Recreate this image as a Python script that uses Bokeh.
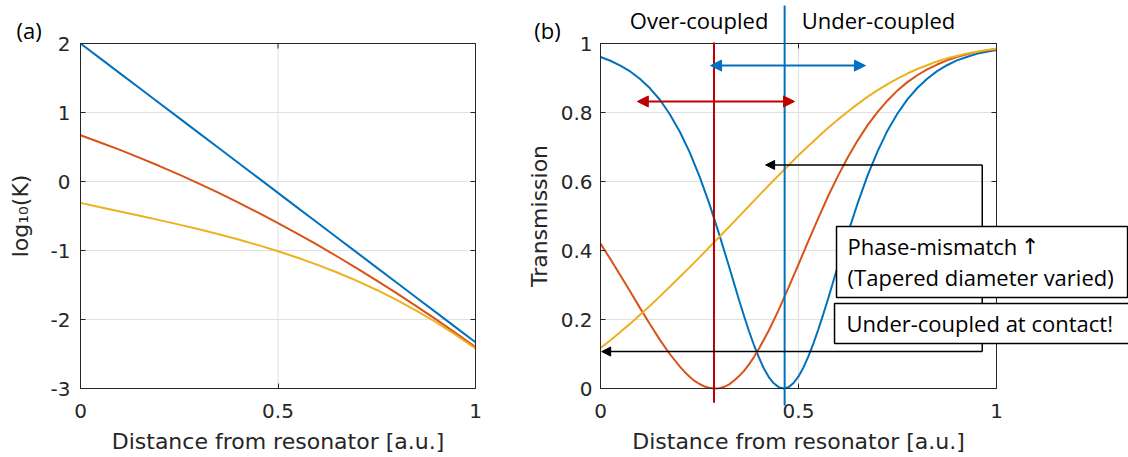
import math
from bokeh.plotting import figure
from bokeh.layouts import row
from bokeh.models import (FixedTicker, LinearAxis, Label, Arrow, NormalHead,
                          BoxAnnotation, Range1d)
from bokeh.embed import file_html
from bokeh.resources import INLINE

# ---------------- data ----------------
# panel (a): log10 of the coupling ratio K versus distance
dist_a = [round(0.05 * i, 2) for i in range(21)]
logk_blue = [2.000, 1.784, 1.567, 1.351, 1.134, 0.918, 0.701, 0.485, 0.268, 0.052, -0.165,
             -0.382, -0.598, -0.815, -1.031, -1.248, -1.464, -1.681, -1.897, -2.114, -2.330]
logk_red = [0.670, 0.566, 0.458, 0.343, 0.224, 0.099, -0.031, -0.166, -0.306, -0.452, -0.603,
            -0.759, -0.920, -1.087, -1.259, -1.436, -1.618, -1.806, -1.999, -2.197, -2.400]
logk_yellow = [-0.310, -0.373, -0.435, -0.497, -0.560, -0.625, -0.693, -0.765, -0.841, -0.922,
               -1.010, -1.105, -1.208, -1.319, -1.441, -1.572, -1.716, -1.871, -2.040, -2.222,
               -2.420]

# panel (b): transmission versus distance (denser sampling around each dip)
dist_b_blue = [0.0, 0.025, 0.05, 0.075, 0.1, 0.125, 0.15, 0.175, 0.2, 0.225, 0.25, 0.275,
               0.3, 0.325, 0.35, 0.3625, 0.375, 0.3875, 0.4, 0.4125, 0.425, 0.4375, 0.45,
               0.4625, 0.475, 0.4875, 0.5, 0.5125, 0.525, 0.5375, 0.55, 0.5625, 0.575, 0.6,
               0.625, 0.65, 0.675, 0.7, 0.725, 0.75, 0.775, 0.8, 0.825, 0.85, 0.875, 0.9,
               0.925, 0.95, 0.975, 1.0]
trans_blue = [0.961, 0.950, 0.936, 0.919, 0.897, 0.870, 0.837, 0.795, 0.745, 0.685, 0.615, 0.535,
              0.446, 0.352, 0.256, 0.210, 0.166, 0.126, 0.090, 0.058, 0.033, 0.015, 0.004,
              0.000, 0.004, 0.016, 0.035, 0.061, 0.093, 0.130, 0.171, 0.215, 0.261, 0.357,
              0.451, 0.539, 0.619, 0.688, 0.748, 0.797, 0.838, 0.871, 0.898, 0.920, 0.937, 0.951,
              0.961, 0.970, 0.976, 0.981]

dist_b_red = [0.0, 0.025, 0.05, 0.075, 0.1, 0.125, 0.15, 0.175, 0.2, 0.2125, 0.225, 0.2375,
              0.25, 0.2625, 0.275, 0.2875, 0.3, 0.3125, 0.325, 0.3375, 0.35, 0.3625, 0.375,
              0.3875, 0.4, 0.425, 0.45, 0.475, 0.5, 0.525, 0.55, 0.575, 0.6, 0.625, 0.65,
              0.675, 0.7, 0.725, 0.75, 0.775, 0.8, 0.825, 0.85, 0.875, 0.9, 0.925, 0.95,
              0.975, 1.0]
trans_red = [0.420, 0.375, 0.328, 0.281, 0.233, 0.186, 0.141, 0.100, 0.064, 0.048, 0.034, 0.022,
             0.013, 0.006, 0.002, 0.000, 0.001, 0.005, 0.012, 0.023, 0.036, 0.051, 0.070,
             0.091, 0.115, 0.168, 0.228, 0.293, 0.360, 0.428, 0.494, 0.558, 0.617, 0.671,
             0.720, 0.764, 0.802, 0.835, 0.864, 0.888, 0.908, 0.925, 0.939, 0.951, 0.961,
             0.969, 0.975, 0.980, 0.984]

dist_b_yellow = [round(0.025 * i, 3) for i in range(41)]
trans_yellow = [0.117, 0.140, 0.164, 0.188, 0.214, 0.240, 0.267, 0.295, 0.323, 0.351,
                0.380, 0.410, 0.439, 0.469, 0.499, 0.529, 0.559, 0.589, 0.618, 0.647,
                0.676, 0.703, 0.730, 0.756, 0.780, 0.803, 0.825, 0.846, 0.865, 0.882,
                0.898, 0.913, 0.926, 0.937, 0.948, 0.957, 0.964, 0.971, 0.976, 0.981,
                0.985]

x_ticks = [0, 0.5, 1]
x_tick_labels = ["0", "0.5", "1"]
ya_ticks = [-3, -2, -1, 0, 1, 2]
ya_tick_labels = ["-3", "-2", "-1", "0", "1", "2"]
yb_ticks = [0, 0.2, 0.4, 0.6, 0.8, 1]
yb_tick_labels = ["0", "0.2", "0.4", "0.6", "0.8", "1"]

# distance of critical coupling for the red and blue cases
critical_red = 0.2866
critical_blue = 0.465

# ---------------- style ----------------
C_BLUE = "#0072BD"
C_RED = "#D95319"
C_YEL = "#EDB120"
C_MARK_RED = "#C00000"
C_MARK_BLUE = "#0070C0"
INK = "#262626"
GRID = "#e0e0e0"
AX_FONT = "DejaVu Sans"
NOTE_FONT = "Open Sans"
HEIGHT = 457


def make_panel(width, box_px, xlim, ylim, xt, xl, yt, yl, ylabel,
               ytick_standoff, ylabel_standoff):
    """Figure whose frame fills the canvas; the axes box sits at box_px
    (left, right, top, bottom) and the axes are pinned to its edges."""
    left, right, top, bottom = box_px
    sx = (right - left) / (xlim[1] - xlim[0])
    sy = (bottom - top) / (ylim[1] - ylim[0])
    p = figure(width=width, height=HEIGHT,
               x_range=Range1d(xlim[0] - left / sx, xlim[1] + (width - right) / sx),
               y_range=Range1d(ylim[0] - (HEIGHT - bottom) / sy, ylim[1] + top / sy),
               x_axis_location=None, y_axis_location=None,
               output_backend="svg", toolbar_location=None, min_border=0)
    p.outline_line_color = None
    p.background_fill_color = "white"
    p.border_fill_color = "white"
    p.grid.visible = False

    # grid lines at the ticks
    p.segment(x0=xt, y0=[ylim[0]] * len(xt), x1=xt, y1=[ylim[1]] * len(xt),
              line_color=GRID, line_width=1)
    p.segment(x0=[xlim[0]] * len(yt), y0=yt, x1=[xlim[1]] * len(yt), y1=yt,
              line_color=GRID, line_width=1)

    common = dict(axis_line_color=None, major_tick_in=5, major_tick_out=0,
                  major_tick_line_color=INK, minor_tick_line_color=None,
                  major_label_text_font=AX_FONT, major_label_text_font_size="20px",
                  major_label_text_color=INK, axis_label_text_font=AX_FONT,
                  axis_label_text_font_size="22px", axis_label_text_font_style="normal",
                  axis_label_text_color=INK)
    xa = LinearAxis(fixed_location=ylim[0], bounds=xlim, ticker=FixedTicker(ticks=xt),
                    major_label_overrides=dict(zip(xt, xl)),
                    axis_label="Distance from resonator [a.u.]",
                    major_label_standoff=15, axis_label_standoff=8, **common)
    ya = LinearAxis(fixed_location=xlim[0], bounds=ylim, ticker=FixedTicker(ticks=yt),
                    major_label_overrides=dict(zip(yt, yl)), axis_label=ylabel,
                    major_label_standoff=ytick_standoff,
                    axis_label_standoff=ylabel_standoff, **common)
    p.add_layout(xa, "below")
    p.add_layout(ya, "left")

    # mirrored inward ticks on the top and right edges
    p.ray(x=xt, y=[ylim[1]] * len(xt), length=5, length_units="screen",
          angle=-math.pi / 2, line_color=INK, line_width=1)
    p.ray(x=[xlim[1]] * len(yt), y=yt, length=5, length_units="screen",
          angle=math.pi, line_color=INK, line_width=1)
    return p


def draw_box(p, xlim, ylim):
    p.quad(left=xlim[0], right=xlim[1], bottom=ylim[0], top=ylim[1],
           fill_color=None, line_color=INK, line_width=1)


# ---------------- panel (a) ----------------
XA, YA = (0, 1), (-3, 2)
pa = make_panel(520, (80, 475, 43, 388), XA, YA, x_ticks, x_tick_labels,
                ya_ticks, ya_tick_labels, "log\u2081\u2080(K)", 10, 15)
pa.line(dist_a, logk_blue, line_color=C_BLUE, line_width=2)
pa.line(dist_a, logk_red, line_color=C_RED, line_width=2)
pa.line(dist_a, logk_yellow, line_color=C_YEL, line_width=2)
draw_box(pa, XA, YA)
pa.add_layout(Label(x=-0.162, y=2.20, text="(a)", text_font=NOTE_FONT,
                    text_font_size="22px", text_color="black",
                    text_baseline="alphabetic"))

# ---------------- panel (b) ----------------
XB, YB = (0, 1), (0, 1)
pb = make_panel(608, (80, 476, 43, 388), XB, YB, x_ticks, x_tick_labels,
                yb_ticks, yb_tick_labels, "Transmission", 8, 6)
pb.line(dist_b_blue, trans_blue, line_color=C_BLUE, line_width=2)
pb.line(dist_b_red, trans_red, line_color=C_RED, line_width=2)
pb.line(dist_b_yellow, trans_yellow, line_color=C_YEL, line_width=2)
draw_box(pb, XB, YB)

# critical-coupling markers
pb.add_layout(Arrow(x_start=critical_red, y_start=-0.041, x_end=critical_red, y_end=1.003,
                    end=None, line_color=C_MARK_RED, line_width=2))
pb.add_layout(Arrow(x_start=critical_blue, y_start=-0.049, x_end=critical_blue, y_end=1.110,
                    end=None, line_color=C_MARK_BLUE, line_width=2))

# shift of the critical point (double-headed arrows)
pb.add_layout(Arrow(x_start=0.278, y_start=0.936, x_end=0.669, y_end=0.936,
                    start=NormalHead(size=11, fill_color=C_MARK_BLUE, line_color=C_MARK_BLUE),
                    end=NormalHead(size=11, fill_color=C_MARK_BLUE, line_color=C_MARK_BLUE),
                    line_color=C_MARK_BLUE, line_width=2))
pb.add_layout(Arrow(x_start=0.093, y_start=0.832, x_end=0.490, y_end=0.832,
                    start=NormalHead(size=11, fill_color=C_MARK_RED, line_color=C_MARK_RED),
                    end=NormalHead(size=11, fill_color=C_MARK_RED, line_color=C_MARK_RED),
                    line_color=C_MARK_RED, line_width=2))

# callout connectors
pb.add_layout(Arrow(x_start=0.964, y_start=0.648, x_end=0.417, y_end=0.648,
                    end=NormalHead(size=9, fill_color="black", line_color="black"),
                    line_color="black", line_width=1.5))
pb.add_layout(Arrow(x_start=0.964, y_start=0.648, x_end=0.964, y_end=0.107,
                    end=None, line_color="black", line_width=1.5))
pb.add_layout(Arrow(x_start=0.964, y_start=0.107, x_end=0.003, y_end=0.107,
                    end=NormalHead(size=9, fill_color="black", line_color="black"),
                    line_color="black", line_width=1.5))

# callout boxes
pb.add_layout(BoxAnnotation(left=0.596, right=1.331, bottom=0.2638, top=0.4696,
                            fill_color="white", fill_alpha=1.0,
                            line_color="black", line_width=1.5, line_alpha=1.0))
pb.add_layout(BoxAnnotation(left=0.591, right=1.36, bottom=0.1304, top=0.2464,
                            fill_color="white", fill_alpha=1.0,
                            line_color="black", line_width=1.5, line_alpha=1.0))

note_style = dict(text_font=NOTE_FONT, text_font_size="22px", text_color="black",
                  text_baseline="alphabetic")
pb.add_layout(Label(x=0.624, y=0.412, text="Phase-mismatch", **note_style))
pb.add_layout(Label(x=1.062, y=0.412, text="\u2191", text_font="DejaVu Sans",
                    text_font_size="22px", text_color="black", text_baseline="alphabetic"))
pb.add_layout(Label(x=0.624, y=0.324, text="(Tapered diameter varied)", **note_style))
pb.add_layout(Label(x=0.621, y=0.191, text="Under-coupled at contact!", **note_style))

pb.add_layout(Label(x=0.249, y=1.067, text="Over-coupled", text_align="center", **note_style))
pb.add_layout(Label(x=0.702, y=1.067, text="Under-coupled", text_align="center", **note_style))
pb.add_layout(Label(x=-0.167, y=1.040, text="(b)", **note_style))

layout = row(pa, pb)
open("out.html", "w").write(file_html(layout, INLINE))
